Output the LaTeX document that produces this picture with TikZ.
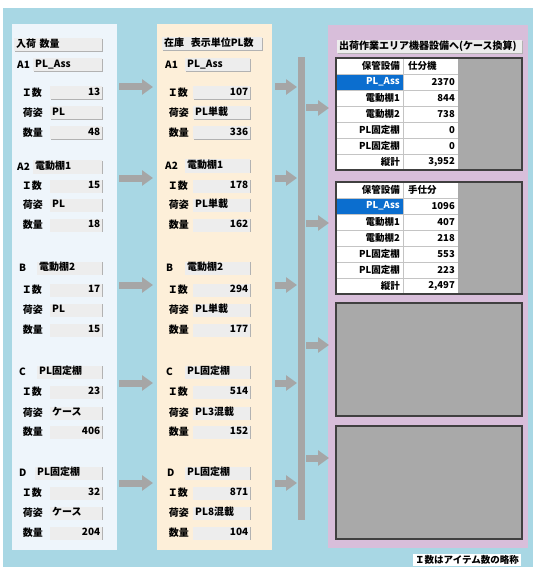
\documentclass[tikz,border=0pt]{standalone}
\usepackage{fontspec}
\setmainfont{Noto Sans CJK JP}
\usetikzlibrary{arrows.meta, shadows}

\definecolor{bgblue}{HTML}{A8D7E4}
\definecolor{inpanel}{HTML}{EEF5FB}
\definecolor{stockpanel}{HTML}{FDEFD9}
\definecolor{outpanel}{HTML}{D8BEDA}
\definecolor{fieldgray}{HTML}{EDEDED}
\definecolor{arrowgray}{HTML}{A6A6A6}
\definecolor{blockgray}{HTML}{A9A9A9}
\definecolor{cellblue}{HTML}{0B6ECF}
\definecolor{gridgray}{HTML}{C4C4C4}

\tikzset{
  field/.style={fill=fieldgray, drop shadow={shadow xshift=0.6pt, shadow yshift=-0.9pt, fill=black!30, opacity=1},
    inner xsep=2pt, inner ysep=0pt, minimum height=13pt, text height=7.5pt, text depth=2pt,
    text width=#1, anchor=west, font=\bfseries\fontsize{10}{10}\selectfont},
  num/.style={field=#1, align=right},
  word/.style={field=#1, align=left},
  lab/.style={inner sep=0pt, font=\bfseries\fontsize{10}{10}\selectfont},
  cell/.style={inner sep=0pt, font=\bfseries\fontsize{9.5}{9.5}\selectfont},
  fat/.style={draw=arrowgray, line width=7pt, -{Triangle[length=11pt,width=15pt]}},
}

\begin{document}
\begin{tikzpicture}[x=1pt,y=-1pt]
\useasboundingbox (0,0) rectangle (535,572);
\fill[bgblue] (3,8) rectangle (533,567);
	\fill[inpanel] (12,24) rectangle (117,550);
	\fill[stockpanel] (157,24) rectangle (272,550);
	\fill[outpanel] (328,25) rectangle (528,548);
	\fill[arrowgray] (298,57) rectangle (305,520);

	% incoming
	\node[word=84] (in) at (14,45) {入荷 数量};
	\node[lab, anchor=west] (lA1) at (17,65) {A1};
	\node[word=65] (lA1n) at (33,65) {PL\_Ass};
	\node[lab, anchor=east] (lA1i) at (42,93) {Ｉ数};
	\node[num=48] (lA1iv) at (50,93) {13};
	\node[lab, anchor=east] (lA1k) at (43,113) {荷姿};
	\node[word=48] (lA1kv) at (50,113) {PL};
	\node[lab, anchor=east] (lA1s) at (43,133) {数量};
	\node[num=48] (lA1sv) at (50,133) {48};
	\node[lab, anchor=west] (lA2) at (17,167) {A2};
	\node[word=65] (lA2n) at (33,167) {電動棚1};
	\node[lab, anchor=east] (lA2i) at (42,186) {Ｉ数};
	\node[num=48] (lA2iv) at (50,186) {15};
	\node[lab, anchor=east] (lA2k) at (43,205) {荷姿};
	\node[word=48] (lA2kv) at (50,205) {PL};
	\node[lab, anchor=east] (lA2s) at (43,225) {数量};
	\node[num=48] (lA2sv) at (50,225) {18};
	\node[lab, anchor=west] (lB) at (19,268) {B};
	\node[word=61] (lBn) at (37,268) {電動棚2};
	\node[lab, anchor=east] (lBi) at (42,290) {Ｉ数};
	\node[num=48] (lBiv) at (50,290) {17};
	\node[lab, anchor=east] (lBk) at (43,310) {荷姿};
	\node[word=48] (lBkv) at (50,310) {PL};
	\node[lab, anchor=east] (lBs) at (43,330) {数量};
	\node[num=48] (lBsv) at (50,330) {15};
	\node[lab, anchor=west] (lC) at (19,372) {C};
	\node[word=61] (lCn) at (37,372) {PL固定棚};
	\node[lab, anchor=east] (lCi) at (42,392) {Ｉ数};
	\node[num=48] (lCiv) at (50,392) {23};
	\node[lab, anchor=east] (lCk) at (43,413) {荷姿};
	\node[word=48] (lCkv) at (50,413) {ケース};
	\node[lab, anchor=east] (lCs) at (43,432) {数量};
	\node[num=48] (lCsv) at (50,432) {406};
	\node[lab, anchor=west] (lD) at (19,473) {D};
	\node[word=63] (lDn) at (35,473) {PL固定棚};
	\node[lab, anchor=east] (lDi) at (42,493) {Ｉ数};
	\node[num=48] (lDiv) at (50,493) {32};
	\node[lab, anchor=east] (lDk) at (43,513) {荷姿};
	\node[word=48] (lDkv) at (50,513) {ケース};
	\node[lab, anchor=east] (lDs) at (43,533) {数量};
	\node[num=48] (lDsv) at (50,533) {204};

	% stock
	\node[word=96] (st) at (162,44) {在庫\ \ 表示単位PL数};
	\node[lab, anchor=west] (mA1) at (165,65) {A1};
	\node[word=61] (mA1n) at (185,65) {PL\_Ass};
	\node[lab, anchor=east] (mA1i) at (188,93) {Ｉ数};
	\node[num=53] (mA1iv) at (193,93) {107};
	\node[lab, anchor=east] (mA1k) at (189,113) {荷姿};
	\node[word=53] (mA1kv) at (193,113) {PL単載};
	\node[lab, anchor=east] (mA1s) at (189,133) {数量};
	\node[num=53] (mA1sv) at (193,133) {336};
	\node[lab, anchor=west] (mA2) at (165,166) {A2};
	\node[word=61] (mA2n) at (185,166) {電動棚1};
	\node[lab, anchor=east] (mA2i) at (188,186) {Ｉ数};
	\node[num=53] (mA2iv) at (193,186) {178};
	\node[lab, anchor=east] (mA2k) at (189,205) {荷姿};
	\node[word=53] (mA2kv) at (193,205) {PL単載};
	\node[lab, anchor=east] (mA2s) at (189,225) {数量};
	\node[num=53] (mA2sv) at (193,225) {162};
	\node[lab, anchor=west] (mB) at (166,268) {B};
	\node[word=61] (mBn) at (185,268) {電動棚2};
	\node[lab, anchor=east] (mBi) at (188,290) {Ｉ数};
	\node[num=53] (mBiv) at (193,290) {294};
	\node[lab, anchor=east] (mBk) at (189,310) {荷姿};
	\node[word=53] (mBkv) at (193,310) {PL単載};
	\node[lab, anchor=east] (mBs) at (189,330) {数量};
	\node[num=53] (mBsv) at (193,330) {177};
	\node[lab, anchor=west] (mC) at (166,372) {C};
	\node[word=61] (mCn) at (185,372) {PL固定棚};
	\node[lab, anchor=east] (mCi) at (188,392) {Ｉ数};
	\node[num=53] (mCiv) at (193,392) {514};
	\node[lab, anchor=east] (mCk) at (189,413) {荷姿};
	\node[word=53] (mCkv) at (193,413) {PL3混載};
	\node[lab, anchor=east] (mCs) at (189,432) {数量};
	\node[num=53] (mCsv) at (193,432) {152};
	\node[lab, anchor=west] (mD) at (167,473) {D};
	\node[word=61] (mDn) at (185,473) {PL固定棚};
	\node[lab, anchor=east] (mDi) at (188,493) {Ｉ数};
	\node[num=53] (mDiv) at (193,493) {871};
	\node[lab, anchor=east] (mDk) at (189,513) {荷姿};
	\node[word=53] (mDkv) at (193,513) {PL8混載};
	\node[lab, anchor=east] (mDs) at (189,533) {数量};
	\node[num=53] (mDsv) at (193,533) {104};

	% arrows
	\coordinate (ia1) at (119,87);  \coordinate (sa1) at (153,87);
	\coordinate (ia2) at (119,178); \coordinate (sa2) at (153,178);
	\coordinate (ib) at (119,285);  \coordinate (sb) at (153,285);
	\coordinate (ic) at (119,383);  \coordinate (sc) at (153,383);
	\coordinate (id) at (119,483);  \coordinate (sd) at (153,483);
	\coordinate (ta1) at (275,87);  \coordinate (ba1) at (297,87);
	\coordinate (ta2) at (275,178); \coordinate (ba2) at (297,178);
	\coordinate (tb) at (275,285);  \coordinate (bb) at (297,285);
	\coordinate (tc) at (275,383);  \coordinate (bc) at (297,383);
	\coordinate (td) at (275,483);  \coordinate (bd) at (297,483);
	\coordinate (o1) at (306,108);  \coordinate (p1) at (329,108);
	\coordinate (o2) at (306,223);  \coordinate (p2) at (329,223);
	\coordinate (o3) at (306,345);  \coordinate (p3) at (329,345);
	\coordinate (o4) at (306,458);  \coordinate (p4) at (329,458);
	\draw[fat] (ia1) -- (sa1);
	\draw[fat] (ia2) -- (sa2);
	\draw[fat] (ib) -- (sb);
	\draw[fat] (ic) -- (sc);
	\draw[fat] (id) -- (sd);
	\draw[fat] (ta1) -- (ba1);
	\draw[fat] (ta2) -- (ba2);
	\draw[fat] (tb) -- (bb);
	\draw[fat] (tc) -- (bc);
	\draw[fat] (td) -- (bd);
	\draw[fat] (o1) -- (p1);
	\draw[fat] (o2) -- (p2);
	\draw[fat] (o3) -- (p3);
	\draw[fat] (o4) -- (p4);

	% shipping
	\node[word=181] (out) at (337,47) {出荷作業エリア機器設備へ(ケース換算)};
	\fill[white] (336,58) rectangle (458,170);
	\fill[blockgray] (458,58) rectangle (522,170);
	\fill[cellblue] (336,74) rectangle (403,90);
	\draw[gridgray] (336,74) -- (458,74) (336,90) -- (458,90) (336,106) -- (458,106)
	  (336,122) -- (458,122) (336,138) -- (458,138) (336,154) -- (458,154) (403,58) -- (403,170);
	\draw[black!75, line width=1.2pt] (336,58) rectangle (522,170);
	\node[cell, anchor=east] (h1) at (400,66) {保管設備};
	\node[cell, anchor=west] (h1v) at (408,66) {仕分機};
	\node[cell, anchor=east, text=white] (r11) at (400,82) {PL\_Ass};
	\node[cell, anchor=east] (r11v) at (455,82) {2370};
	\node[cell, anchor=east] (r12) at (400,98) {電動棚1};
	\node[cell, anchor=east] (r12v) at (455,98) {844};
	\node[cell, anchor=east] (r13) at (400,114) {電動棚2};
	\node[cell, anchor=east] (r13v) at (455,114) {738};
	\node[cell, anchor=east] (r14) at (400,130) {PL固定棚};
	\node[cell, anchor=east] (r14v) at (455,130) {0};
	\node[cell, anchor=east] (r15) at (400,146) {PL固定棚};
	\node[cell, anchor=east] (r15v) at (455,146) {0};
	\node[cell, anchor=east] (r16) at (400,162) {縦計};
	\node[cell, anchor=east] (r16v) at (455,162) {3,952};

	\fill[white] (336,182) rectangle (458,294);
	\fill[blockgray] (458,182) rectangle (522,294);
	\fill[cellblue] (336,198) rectangle (403,214);
	\draw[gridgray] (336,198) -- (458,198) (336,214) -- (458,214) (336,230) -- (458,230)
	  (336,246) -- (458,246) (336,262) -- (458,262) (336,278) -- (458,278) (403,182) -- (403,294);
	\draw[black!75, line width=1.2pt] (336,182) rectangle (522,294);
	\node[cell, anchor=east] (h2) at (400,190) {保管設備};
	\node[cell, anchor=west] (h2v) at (408,190) {手仕分};
	\node[cell, anchor=east, text=white] (r21) at (400,206) {PL\_Ass};
	\node[cell, anchor=east] (r21v) at (455,206) {1096};
	\node[cell, anchor=east] (r22) at (400,222) {電動棚1};
	\node[cell, anchor=east] (r22v) at (455,222) {407};
	\node[cell, anchor=east] (r23) at (400,238) {電動棚2};
	\node[cell, anchor=east] (r23v) at (455,238) {218};
	\node[cell, anchor=east] (r24) at (400,254) {PL固定棚};
	\node[cell, anchor=east] (r24v) at (455,254) {553};
	\node[cell, anchor=east] (r25) at (400,270) {PL固定棚};
	\node[cell, anchor=east] (r25v) at (455,270) {223};
	\node[cell, anchor=east] (r26) at (400,286) {縦計};
	\node[cell, anchor=east] (r26v) at (455,286) {2,497};

	\filldraw[fill=blockgray, draw=black!75, line width=1.2pt] (336,303) rectangle (522,416);
	\filldraw[fill=blockgray, draw=black!75, line width=1.2pt] (336,426) rectangle (522,539);

	\node[fill=white, inner xsep=2pt, inner ysep=1pt, font=\bfseries\fontsize{9.5}{9.5}\selectfont] (note) at (467,560) {Ｉ数はアイテム数の略称};
\end{tikzpicture}
\end{document}
